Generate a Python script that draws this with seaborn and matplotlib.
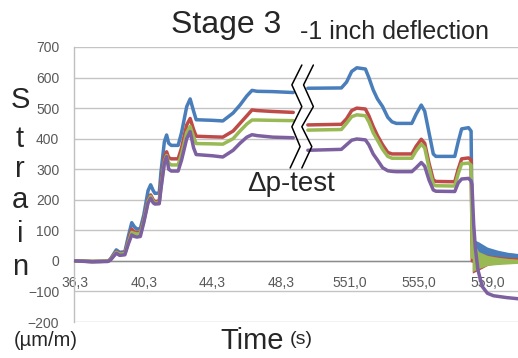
import matplotlib
matplotlib.use("Agg")
import matplotlib.pyplot as plt
import pandas as pd
import seaborn as sns

# Readings before the gap in the time axis (s) and strain per gauge (µm/m)
time_a = [36.3, 37.3, 38.2, 38.35, 38.7, 38.9, 39.2, 39.4, 39.6, 39.75, 39.9, 40.1,
          40.3, 40.55, 40.7, 40.85, 40.95, 41.2, 41.3, 41.5, 41.63, 41.75, 41.9, 42.3,
          42.5, 42.8, 43.0, 43.2, 43.35, 44.3, 44.9, 45.5, 45.9, 46.3, 46.6, 46.9,
          47.8, 49.0]
blue_a = [0, -2, -1, 5, 36, 28, 30, 80, 125, 112, 104, 106, 150, 230, 249, 230, 221,
          222, 290, 390, 412, 385, 378, 378, 420, 505, 530, 490, 462, 460, 458, 484,
          510, 540, 558, 555, 554, 551]
red_a = [0, -2, -1, 4, 30, 24, 26, 65, 104, 95, 92, 94, 135, 200, 216, 200, 194, 196,
         255, 340, 357, 338, 334, 334, 370, 445, 466, 430, 408, 406, 405, 425, 450,
         475, 494, 492, 489, 486]
green_a = [0, -2, -1, 3, 28, 22, 24, 60, 93, 90, 88, 90, 130, 195, 211, 195, 189, 191,
           240, 325, 345, 320, 314, 314, 350, 420, 440, 405, 384, 383, 382, 400, 425,
           448, 461, 461, 460, 459]
purple_a = [0, -3, -2, 2, 25, 18, 20, 55, 85, 80, 78, 80, 125, 190, 205, 190, 186, 187,
            235, 320, 341, 300, 294, 294, 330, 400, 423, 370, 348, 344, 340, 362, 385,
            405, 413, 410, 405, 403]

# Readings after the gap (Δp-test and unloading)
time_b = [548.55, 550.5, 550.8, 551.1, 551.4, 551.9, 552.1, 552.35, 552.6, 552.9,
          553.2, 553.45, 553.7, 554.6, 554.85, 555.15, 555.35, 555.6, 555.85, 556.0,
          557.1, 557.3, 557.5, 557.9, 558.05]
blue_b = [565, 566, 585, 620, 632, 628, 600, 560, 530, 505, 470, 455, 450, 450, 480,
          510, 490, 420, 350, 342, 342, 390, 432, 436, 425]
red_b = [445, 447, 465, 492, 500, 497, 475, 440, 410, 380, 355, 350, 350, 350, 375,
         398, 385, 320, 265, 260, 259, 300, 334, 337, 330]
green_b = [428, 430, 450, 472, 478, 475, 455, 420, 395, 365, 342, 336, 336, 336, 360,
           382, 370, 305, 250, 246, 245, 285, 318, 320, 313]
purple_b = [362, 365, 380, 395, 399, 396, 380, 350, 330, 305, 295, 293, 292, 292, 305,
            322, 310, 265, 232, 228, 227, 255, 268, 270, 262]

# Settling after release: mean level and noise envelope
time_c = [558.12, 558.5, 559.0, 559.6, 560.2, 560.8]
blue_c = [55, 45, 32, 24, 19, 16]
blue_lo = [35, 28, 18, 12, 10, 8]
blue_hi = [72, 62, 45, 35, 28, 24]
red_c = [0, 0, 3, 4, 4, 4]
red_lo = [-40, -30, -15, -8, -4, -3]
red_hi = [40, 28, 20, 15, 12, 10]
green_c = [12, 3, 1, 0, -1, -2]
green_lo = [-35, -25, -15, -12, -10, -8]
green_hi = [65, 30, 18, 12, 8, 5]
time_purple_c = [558.1, 558.2, 558.3, 558.45, 558.7, 559.0, 559.35, 560.1, 560.8]
purple_c = [250, 120, 40, -30, -84, -106, -114, -120, -124]

tick_times_a = [36.3, 40.3, 44.3, 48.3]
tick_times_b = [551.0, 555.0, 559.0]
tick_labels = ["36,3", "40,3", "44,3", "48,3", "551,0", "555,0", "559,0"]

# Equally spaced readings: the axis runs in reading order, the cut-out
# interval between the two records is skipped.
OFFSET = {"a": 36.3, "b": 535.0}

gauges = {
    "blue": dict(color="#4A7EBB", a=blue_a, b=blue_b, tc=time_c, c=blue_c,
                 band=(blue_lo, blue_hi)),
    "red": dict(color="#BE4B48", a=red_a, b=red_b, tc=time_c, c=red_c,
                band=(red_lo, red_hi)),
    "green": dict(color="#98B954", a=green_a, b=green_b, tc=time_c, c=green_c,
                  band=(green_lo, green_hi)),
    "purple": dict(color="#7D60A0", a=purple_a, b=purple_b, tc=time_purple_c,
                   c=purple_c, band=None),
}

rows = []
for name, g in gauges.items():
    for t, v in zip(time_a, g["a"]):
        rows.append((name, "a", t - OFFSET["a"], v))
    for t, v in zip(time_b + g["tc"], g["b"] + g["c"]):
        rows.append((name, "b", t - OFFSET["b"], v))
df = pd.DataFrame(rows, columns=["gauge", "segment", "pos", "strain"])

sns.set_style("white")
plt.rcParams["font.family"] = ["Liberation Sans", "DejaVu Sans"]

W, H = 518, 358
fig = plt.figure(figsize=(W / 100, H / 100), dpi=100)
ax = fig.add_axes([74 / W, 1 - 322 / H, 444 / W, 275 / H])

for z, (name, g) in enumerate(gauges.items(), start=3):
    sub = df[df["gauge"] == name]
    sns.lineplot(data=sub, x="pos", y="strain", units="segment", estimator=None,
                 sort=False, color=g["color"], linewidth=2.5, zorder=z, ax=ax,
                 legend=False)
    if g["band"] is not None:
        lo, hi = g["band"]
        pos_c = [t - OFFSET["b"] for t in g["tc"]]
        ax.fill_between(pos_c, lo, hi, color=g["color"], linewidth=0, zorder=z)

# Axis-break symbol
break_v = [641, 576, 505, 439, 374, 304]
break_left = [13.2, 12.62, 13.2, 12.62, 13.1, 12.52]
break_right = [13.87, 13.3, 13.87, 13.2, 13.78, 13.2]
for bx in (break_left, break_right):
    ax.plot(bx, break_v, color="black", linewidth=1.1, zorder=8)

ax.set_xlim(-0.06, 25.78)
ax.set_ylim(-200, 700)
ax.set_yticks(range(-200, 701, 100))
major = [t - OFFSET["a"] for t in tick_times_a] + [t - OFFSET["b"] for t in tick_times_b]
ax.set_xticks(major)
ax.set_xticklabels(tick_labels)
ax.set_xticks(range(0, 26), minor=True)
ax.set_xlabel("")
ax.set_ylabel("")

ax.yaxis.grid(True, color="#C4C4C4", linewidth=1.0)
ax.set_axisbelow(True)
for s in ("top", "right"):
    ax.spines[s].set_visible(False)
ax.spines["left"].set_color("#BFBFBF")
ax.spines["left"].set_linewidth(1.0)
ax.spines["bottom"].set_position(("data", 0))
ax.spines["bottom"].set_color("#8C8C8C")
ax.spines["bottom"].set_linewidth(1.0)
ax.spines["bottom"].set_zorder(2.5)
ax.tick_params(axis="y", length=3.6, width=1, color="#BFBFBF",
               labelcolor="#595959", labelsize=10, pad=7)
ax.tick_params(axis="x", which="both", length=3.6, width=1, color="#8C8C8C",
               labelcolor="#595959", labelsize=10, pad=7)


def px(x, y):
    return x / W, 1 - y / H


fig.text(*px(226, 33.3), "Stage 3", ha="center", va="baseline", fontsize=23)
fig.text(*px(300, 39.3), "-1 inch deflection", ha="left", va="baseline", fontsize=18)
for letter, base in zip("Strain", [108, 147, 177, 208, 242, 275]):
    fig.text(*px(20, base), letter, ha="center", va="baseline", fontsize=21)
fig.text(*px(46, 346), "(µm/m)", ha="center", va="baseline", fontsize=14.5)
fig.text(*px(220, 349), "Time", ha="left", va="baseline", fontsize=21)
fig.text(*px(290, 344), "(s)", ha="left", va="baseline", fontsize=14)
fig.text(*px(291, 191), "Δp-test", ha="center", va="baseline", fontsize=20)

fig.savefig("out.png", dpi=100)
